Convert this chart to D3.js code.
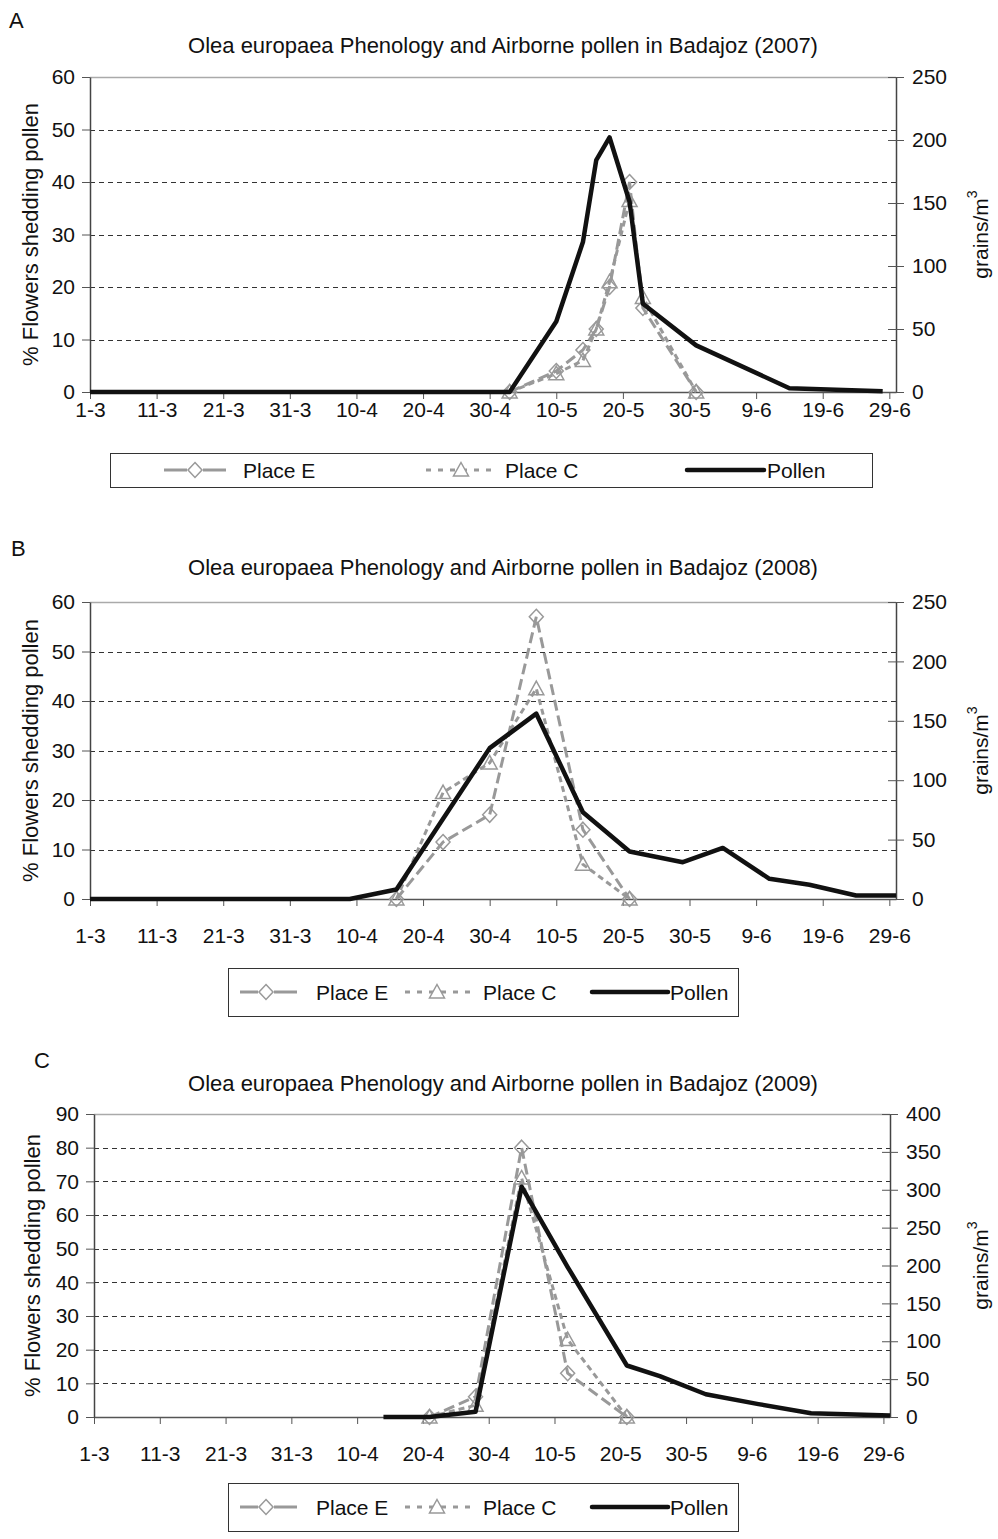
<!DOCTYPE html>
<html>
<head>
<meta charset="utf-8">
<script src="https://cdn.jsdelivr.net/npm/d3@7"></script>
<style>
  body { margin: 0; background: #fff; }
  svg text { font-family: "Liberation Sans", Arial, Helvetica, sans-serif; fill: #111; }
</style>
</head>
<body>
<svg id="fig" width="998" height="1539"></svg>
<script>
// ---- shared category axis (day-month), 1 March to 30 June ----
const axisStart = "1-3";
const axisEnd = "30-6";
const tickLabels = ["1-3", "11-3", "21-3", "31-3", "10-4", "20-4", "30-4", "10-5", "20-5", "30-5", "9-6", "19-6", "29-6"];
const seriesNames = ["Place E", "Place C", "Pollen"];
const leftAxisTitle = "% Flowers shedding pollen";
const rightAxisTitle = "grains/m";

// ---- 2007 ----
const titleA = "Olea europaea Phenology and Airborne pollen in Badajoz (2007)";
const pollenDatesA = ["1-3", "3-5", "10-5", "14-5", "16-5", "18-5", "21-5", "23-5", "31-5", "14-6", "28-6"];
const pollenA = [0, 0, 56, 119, 184, 202, 151, 70, 37, 3, 0.5];
const phenDatesA = ["3-5", "10-5", "14-5", "16-5", "18-5", "21-5", "23-5", "31-5"];
const placeEA = [0, 4, 8, 12, 20, 40, 16, 0];
const placeCA = [0, 3.5, 6, 12, 21, 36.5, 18, 0];
const leftTicksA = [0, 10, 20, 30, 40, 50, 60];
const rightTicksA = [0, 50, 100, 150, 200, 250];

// ---- 2008 ----
const titleB = "Olea europaea Phenology and Airborne pollen in Badajoz (2008)";
const pollenDatesB = ["1-3", "9-4", "16-4", "30-4", "7-5", "14-5", "21-5", "29-5", "4-6", "11-6", "17-6", "24-6", "30-6"];
const pollenB = [0, 0, 8, 127, 156, 73, 40, 31, 43, 17, 12, 3, 3];
const phenDatesB = ["16-4", "23-4", "30-4", "7-5", "14-5", "21-5"];
const placeEB = [0, 11.5, 17, 57, 14, 0];
const placeCB = [0, 21.5, 27.5, 42.5, 7, 0];
const leftTicksB = [0, 10, 20, 30, 40, 50, 60];
const rightTicksB = [0, 50, 100, 150, 200, 250];

// ---- 2009 ----
const titleC = "Olea europaea Phenology and Airborne pollen in Badajoz (2009)";
const pollenDatesC = ["14-4", "21-4", "28-4", "5-5", "12-5", "21-5", "26-5", "2-6", "10-6", "18-6", "30-6"];
const pollenC = [0, 0, 7, 304, 198, 68, 54, 30, 17, 5, 2];
const phenDatesC = ["21-4", "28-4", "5-5", "12-5", "21-5"];
const placeEC = [0, 6, 80, 13, 0];
const placeCC = [0, 3.5, 71, 23, 0];
const leftTicksC = [0, 10, 20, 30, 40, 50, 60, 70, 80, 90];
const rightTicksC = [0, 50, 100, 150, 200, 250, 300, 350, 400];

// ---- helpers ----
const parseDay = s => { const [d, m] = s.split("-").map(Number); return new Date(2001, m - 1, d); };
const zip = (dates, vals) => dates.map((d, i) => ({ date: parseDay(d), v: vals[i] }));

const GREY = "#999";
const diamondPath = "M0,-7.5L7,0L0,7.5L-7,0Z";
const trianglePath = "M0,-7.5L7.5,6L-7.5,6Z";
const TICK_FS = 21;

const svg = d3.select("#fig");

function drawPanel(p) {
  const g = svg.append("g");
  const x = d3.scaleTime().domain([parseDay(axisStart), parseDay(axisEnd)]).range([p.left, p.right]);
  const yL = d3.scaleLinear().domain([0, d3.max(p.leftTicks)]).range([p.bottom, p.top]);
  const yR = d3.scaleLinear().domain([0, d3.max(p.rightTicks)]).range([p.bottom, p.top]);

  // panel letter and title
  g.append("text").attr("x", p.letterX).attr("y", p.letterY).attr("font-size", 22).text(p.letter);
  g.append("text").attr("x", p.titleX).attr("y", p.titleY)
    .attr("text-anchor", "middle").attr("font-size", 22).text(p.title);

  // dashed horizontal gridlines
  const maxL = d3.max(p.leftTicks);
  g.append("g").selectAll("line")
    .data(p.leftTicks.filter(v => v > 0 && v < maxL))
    .join("line")
    .attr("x1", p.left).attr("x2", p.right)
    .attr("y1", d => Math.round(yL(d)) + 0.5).attr("y2", d => Math.round(yL(d)) + 0.5)
    .attr("stroke", "#333").attr("stroke-width", 1).attr("stroke-dasharray", "5,4");

  // top frame line
  g.append("line").attr("x1", p.left).attr("x2", p.right)
    .attr("y1", p.top + 0.5).attr("y2", p.top + 0.5)
    .attr("stroke", "#aaa").attr("stroke-width", 1.5);

  // x axis
  const xAxis = d3.axisBottom(x)
    .tickValues(tickLabels.map(parseDay))
    .tickFormat((d, i) => tickLabels[i])
    .tickSize(7).tickSizeOuter(0).tickPadding(p.xLabelPad);
  const gx = g.append("g").attr("transform", `translate(0,${p.bottom})`).call(xAxis);
  gx.select(".domain").attr("stroke", "#555").attr("stroke-width", 1.5);
  gx.selectAll(".tick line").attr("stroke", "#555");
  gx.selectAll("text").attr("font-size", TICK_FS).attr("font-family", null).attr("fill", "#111");

  // left axis
  const gl = g.append("g").attr("transform", `translate(${p.left},0)`)
    .call(d3.axisLeft(yL).tickValues(p.leftTicks).tickSize(8).tickSizeOuter(0).tickPadding(7));
  gl.select(".domain").attr("stroke", "#444").attr("stroke-width", 1.5);
  gl.selectAll(".tick line").attr("stroke", "#555");
  gl.selectAll("text").attr("font-size", TICK_FS).attr("font-family", null).attr("fill", "#111");

  // right (secondary) axis, ticks crossing the axis line
  const gr = g.append("g").attr("transform", `translate(${p.right},0)`)
    .call(d3.axisRight(yR).tickValues(p.rightTicks).tickSize(8).tickSizeOuter(0).tickPadding(8));
  gr.select(".domain").attr("stroke", "#444").attr("stroke-width", 1.5);
  gr.selectAll(".tick line").attr("stroke", "#555").attr("x1", -8);
  gr.selectAll("text").attr("font-size", TICK_FS).attr("font-family", null).attr("fill", "#111");

  // axis titles
  g.append("text")
    .attr("transform", `translate(${p.leftTitleX},${(p.top + p.bottom) / 2}) rotate(-90)`)
    .attr("text-anchor", "middle").attr("dominant-baseline", "central")
    .attr("font-size", 22).text(leftAxisTitle);
  const rt = g.append("text")
    .attr("transform", `translate(${p.rightTitleX},${(p.top + p.bottom) / 2}) rotate(-90)`)
    .attr("text-anchor", "middle").attr("dominant-baseline", "central")
    .attr("font-size", 21);
  rt.append("tspan").text(rightAxisTitle);
  rt.append("tspan").attr("font-size", 14).attr("dy", -8).text("3");

  // series
  const eData = zip(p.phenDates, p.placeE);
  const cData = zip(p.phenDates, p.placeC);
  const pData = zip(p.pollenDates, p.pollen);
  const lineL = d3.line().x(d => x(d.date)).y(d => yL(d.v));
  const lineR = d3.line().x(d => x(d.date)).y(d => yR(d.v));

  g.append("path").datum(eData).attr("d", lineL)
    .attr("fill", "none").attr("stroke", GREY).attr("stroke-width", 3)
    .attr("stroke-dasharray", "11,5");
  g.append("g").selectAll("path").data(eData).join("path")
    .attr("d", diamondPath)
    .attr("transform", d => `translate(${x(d.date)},${yL(d.v)})`)
    .attr("fill", "none").attr("stroke", GREY).attr("stroke-width", 1.5);

  g.append("path").datum(cData).attr("d", lineL)
    .attr("fill", "none").attr("stroke", GREY).attr("stroke-width", 3)
    .attr("stroke-dasharray", "6,4");
  g.append("g").selectAll("path").data(cData).join("path")
    .attr("d", trianglePath)
    .attr("transform", d => `translate(${x(d.date)},${yL(d.v)})`)
    .attr("fill", "none").attr("stroke", GREY).attr("stroke-width", 1.5);

  g.append("path").datum(pData).attr("d", lineR)
    .attr("fill", "none").attr("stroke", "#111").attr("stroke-width", 4.5)
    .attr("stroke-linejoin", "round");

  // legend
  const L = p.legend;
  const lg = g.append("g");
  lg.append("rect").attr("x", L.x + 0.5).attr("y", L.y + 0.5).attr("width", L.w).attr("height", L.h)
    .attr("fill", "#fff").attr("stroke", "#333").attr("stroke-width", 1);
  const cy = L.y + L.h / 2;
  const [iE, iC, iP] = L.items;
  // Place E
  lg.append("line").attr("x1", iE.x0).attr("x2", iE.m - 8).attr("y1", cy).attr("y2", cy)
    .attr("stroke", GREY).attr("stroke-width", 3);
  lg.append("line").attr("x1", iE.m + 8).attr("x2", iE.x1).attr("y1", cy).attr("y2", cy)
    .attr("stroke", GREY).attr("stroke-width", 3);
  lg.append("path").attr("d", diamondPath).attr("transform", `translate(${iE.m},${cy})`)
    .attr("fill", "#fff").attr("stroke", GREY).attr("stroke-width", 1.5);
  lg.append("text").attr("x", iE.t).attr("y", cy).attr("dominant-baseline", "central")
    .attr("font-size", 21).text(seriesNames[0]);
  // Place C
  lg.append("line").attr("x1", iC.x0).attr("x2", iC.x1).attr("y1", cy).attr("y2", cy)
    .attr("stroke", GREY).attr("stroke-width", 3).attr("stroke-dasharray", "5,7");
  lg.append("path").attr("d", trianglePath).attr("transform", `translate(${iC.m},${cy})`)
    .attr("fill", "#fff").attr("stroke", GREY).attr("stroke-width", 1.5);
  lg.append("text").attr("x", iC.t).attr("y", cy).attr("dominant-baseline", "central")
    .attr("font-size", 21).text(seriesNames[1]);
  // Pollen
  lg.append("line").attr("x1", iP.x0).attr("x2", iP.x1).attr("y1", cy).attr("y2", cy)
    .attr("stroke", "#111").attr("stroke-width", 4.5).attr("stroke-linecap", "round");
  lg.append("text").attr("x", iP.t).attr("y", cy).attr("dominant-baseline", "central")
    .attr("font-size", 21).text(seriesNames[2]);
}

const wideLegendItems = [
  { x0: 164, m: 195, x1: 226, t: 243 },
  { x0: 426, m: 461, x1: 495, t: 505 },
  { x0: 687, x1: 764, t: 767 }
];
const narrowLegendItems = [
  { x0: 240, m: 266, x1: 297, t: 316 },
  { x0: 405, m: 437, x1: 470, t: 483 },
  { x0: 592, x1: 668, t: 670 }
];

drawPanel({
  letter: "A", letterX: 9, letterY: 28, title: titleA, titleX: 503, titleY: 53,
  left: 90, right: 896, top: 77, bottom: 392, xLabelPad: 3,
  leftTitleX: 30, rightTitleX: 980,
  leftTicks: leftTicksA, rightTicks: rightTicksA,
  pollenDates: pollenDatesA, pollen: pollenA,
  phenDates: phenDatesA, placeE: placeEA, placeC: placeCA,
  legend: { x: 110, y: 453, w: 762, h: 34, items: wideLegendItems }
});

drawPanel({
  letter: "B", letterX: 11, letterY: 556, title: titleB, titleX: 503, titleY: 575,
  left: 90, right: 896, top: 602, bottom: 899, xLabelPad: 22,
  leftTitleX: 30, rightTitleX: 980,
  leftTicks: leftTicksB, rightTicks: rightTicksB,
  pollenDates: pollenDatesB, pollen: pollenB,
  phenDates: phenDatesB, placeE: placeEB, placeC: placeCB,
  legend: { x: 228, y: 968, w: 510, h: 48, items: narrowLegendItems }
});

drawPanel({
  letter: "C", letterX: 34, letterY: 1068, title: titleC, titleX: 503, titleY: 1091,
  left: 94, right: 890, top: 1114, bottom: 1417, xLabelPad: 22,
  leftTitleX: 32, rightTitleX: 980,
  leftTicks: leftTicksC, rightTicks: rightTicksC,
  pollenDates: pollenDatesC, pollen: pollenC,
  phenDates: phenDatesC, placeE: placeEC, placeC: placeCC,
  legend: { x: 228, y: 1483, w: 510, h: 48, items: narrowLegendItems }
});
</script>
</body>
</html>
